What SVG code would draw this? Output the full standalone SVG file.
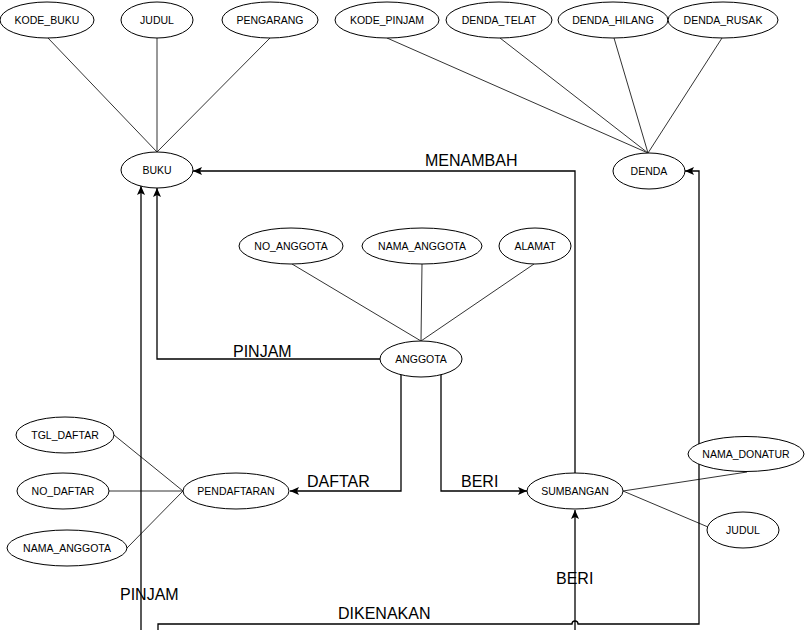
<svg xmlns="http://www.w3.org/2000/svg" width="806" height="630" viewBox="0 0 806 630">
<style>
.e{fill:#fff;stroke:#000;stroke-width:1}
.t{font-family:"Liberation Sans",Arial,sans-serif;font-size:10.5px;fill:#000;text-anchor:middle}
.r{font-family:"Liberation Sans",Arial,sans-serif;font-size:16px;fill:#000}
.a{stroke:#333;stroke-width:1;fill:none}
.c{stroke:#000;stroke-width:1.3;fill:none}
.ca{stroke:#000;stroke-width:1.3;fill:none;marker-end:url(#arr)}
</style>
<defs>
<marker id="arr" markerUnits="userSpaceOnUse" markerWidth="10" markerHeight="10" refX="9" refY="4" orient="auto">
<path d="M0,0 L9,4 L0,8 L2,4 Z" fill="#000"/>
</marker>
</defs>
<rect width="806" height="630" fill="#fff"/>
<g id="connectors">
<line class="a" x1="48" y1="38" x2="157" y2="152"/>
<line class="a" x1="157" y1="38" x2="157" y2="152"/>
<line class="a" x1="270" y1="38" x2="157" y2="152"/>
<line class="a" x1="387" y1="38" x2="648" y2="153"/>
<line class="a" x1="500" y1="38" x2="648" y2="153"/>
<line class="a" x1="614" y1="38" x2="648" y2="153"/>
<line class="a" x1="722" y1="38" x2="648" y2="153"/>
<line class="a" x1="292" y1="264" x2="421" y2="341"/>
<line class="a" x1="422" y1="264" x2="421" y2="341"/>
<line class="a" x1="534" y1="264" x2="421" y2="341"/>
<line class="a" x1="114" y1="435" x2="183" y2="491"/>
<line class="a" x1="109" y1="491" x2="183" y2="491"/>
<line class="a" x1="127" y1="548" x2="183" y2="491"/>
<line class="a" x1="623" y1="491" x2="747" y2="472"/>
<line class="a" x1="623" y1="491" x2="708" y2="527"/>
<path class="ca" d="M575,473 V171 H193"/>
<path class="ca" d="M380,359 H157 V188"/>
<path class="ca" d="M141,630 V186"/>
<path class="ca" d="M401,375 V491 H290"/>
<path class="ca" d="M441,375 V491 H527"/>
<path class="ca" d="M575,630 V510"/>
<path class="ca" d="M158,630 V624 H572 A3,3 0 0 1 578,624 H699 V171 H685"/>
<text class="r" x="425" y="166">MENAMBAH</text>
<text class="r" x="233" y="357">PINJAM</text>
<text class="r" x="307" y="487">DAFTAR</text>
<text class="r" x="461" y="487">BERI</text>
<text class="r" x="556" y="584">BERI</text>
<text class="r" x="120" y="600">PINJAM</text>
<text class="r" x="338" y="619">DIKENAKAN</text>
</g>
<g id="kode_buku"><ellipse class="e" cx="47" cy="20" rx="47" ry="18"/><text class="t" x="47" y="24">KODE_BUKU</text></g>
<g id="judul_buku"><ellipse class="e" cx="157" cy="20" rx="36" ry="18"/><text class="t" x="157" y="24">JUDUL</text></g>
<g id="pengarang"><ellipse class="e" cx="270" cy="20" rx="48" ry="18"/><text class="t" x="270" y="24">PENGARANG</text></g>
<g id="kode_pinjam"><ellipse class="e" cx="387" cy="20" rx="52" ry="18"/><text class="t" x="387" y="24">KODE_PINJAM</text></g>
<g id="denda_telat"><ellipse class="e" cx="499" cy="20" rx="53" ry="18"/><text class="t" x="499" y="24">DENDA_TELAT</text></g>
<g id="denda_hilang"><ellipse class="e" cx="613" cy="20" rx="55" ry="18"/><text class="t" x="613" y="24">DENDA_HILANG</text></g>
<g id="denda_rusak"><ellipse class="e" cx="723" cy="20" rx="55" ry="18"/><text class="t" x="723" y="24">DENDA_RUSAK</text></g>
<g id="buku"><ellipse class="e" cx="157" cy="170" rx="36" ry="18"/><text class="t" x="157" y="174">BUKU</text></g>
<g id="denda"><ellipse class="e" cx="649" cy="171" rx="36" ry="18"/><text class="t" x="649" y="175">DENDA</text></g>
<g id="no_anggota"><ellipse class="e" cx="291" cy="246" rx="52" ry="18"/><text class="t" x="291" y="250">NO_ANGGOTA</text></g>
<g id="nama_anggota"><ellipse class="e" cx="422" cy="246" rx="60" ry="18"/><text class="t" x="422" y="250">NAMA_ANGGOTA</text></g>
<g id="alamat"><ellipse class="e" cx="535" cy="246" rx="36" ry="18"/><text class="t" x="535" y="250">ALAMAT</text></g>
<g id="anggota"><ellipse class="e" cx="421" cy="359" rx="41" ry="18"/><text class="t" x="421" y="363">ANGGOTA</text></g>
<g id="tgl_daftar"><ellipse class="e" cx="65" cy="435" rx="49" ry="18"/><text class="t" x="65" y="439">TGL_DAFTAR</text></g>
<g id="no_daftar"><ellipse class="e" cx="63" cy="491" rx="46" ry="18"/><text class="t" x="63" y="495">NO_DAFTAR</text></g>
<g id="nama_anggota_daftar"><ellipse class="e" cx="67" cy="548" rx="60" ry="18"/><text class="t" x="67" y="552">NAMA_ANGGOTA</text></g>
<g id="pendaftaran"><ellipse class="e" cx="236" cy="491" rx="53" ry="18"/><text class="t" x="236" y="495">PENDAFTARAN</text></g>
<g id="sumbangan"><ellipse class="e" cx="575" cy="491" rx="48" ry="18"/><text class="t" x="575" y="495">SUMBANGAN</text></g>
<g id="nama_donatur"><ellipse class="e" cx="746" cy="454" rx="58" ry="17.5"/><text class="t" x="746" y="458">NAMA_DONATUR</text></g>
<g id="judul_sumbangan"><ellipse class="e" cx="743" cy="530" rx="36" ry="18"/><text class="t" x="743" y="534">JUDUL</text></g>
</svg>
